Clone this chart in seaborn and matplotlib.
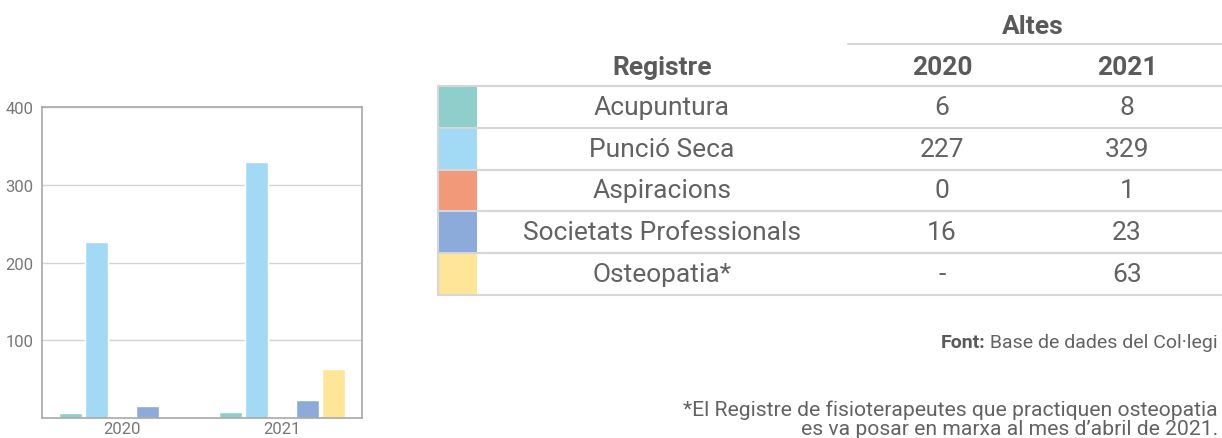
import matplotlib
matplotlib.use("Agg")
import matplotlib.pyplot as plt
import seaborn as sns
import pandas as pd
import numpy as np
from matplotlib.patches import Rectangle
from matplotlib.lines import Line2D

# ---- data ----
years = ["2020", "2021"]
registres = ["Acupuntura", "Punció Seca", "Aspiracions", "Societats Professionals", "Osteopatia*"]
altes_2020 = [6, 227, 0, 16, None]
altes_2021 = [8, 329, 1, 23, 63]
colors = ["#8ECFCB", "#A2DAF6", "#F2997A", "#8CAADA", "#FFE598"]
yticks = [100, 200, 300, 400]
title_altes = "Altes"
header_registre = "Registre"
font_label = "Font:"
font_text = " Base de dades del Col·legi"
note_lines = ["*El Registre de fisioterapeutes que practiquen osteopatia",
              "es va posar en marxa al mes d\u2019abril de 2021."]

rows = []
for r, v0, v1 in zip(registres, altes_2020, altes_2021):
    rows.append({"year": "2020", "registre": r, "altes": np.nan if v0 is None else v0})
    rows.append({"year": "2021", "registre": r, "altes": v1})
df = pd.DataFrame(rows)

sns.set_theme(style="white")
plt.rcParams["font.family"] = ["Roboto", "DejaVu Sans"]

W, H = 1222, 439
fig = plt.figure(figsize=(W / 100, H / 100), dpi=100)

def px(x0, y0, x1, y1):
    return [x0 / W, 1 - y1 / H, (x1 - x0) / W, (y1 - y0) / H]

ax = fig.add_axes(px(42, 108, 362, 419))
sns.barplot(data=df, x="year", y="altes", hue="registre", order=years,
            hue_order=registres, palette=colors, width=0.8, gap=0.1,
            saturation=1, legend=False, ax=ax, errorbar=None)
ax.set_ylim(0, 400)
ax.set_xlim(-0.5, 1.5)
ax.set_yticks(yticks)
ax.set_yticklabels([str(t) for t in yticks])
ax.set_xlabel("")
ax.set_ylabel("")
ax.yaxis.grid(True, color="#d4d4d4", linewidth=1)
ax.set_axisbelow(True)
for s in ax.spines.values():
    s.set_color("#a8a8a8")
    s.set_linewidth(1.2)
ax.tick_params(axis="both", length=0, labelsize=12, labelcolor="#777777", pad=2)
ax.tick_params(axis="y", pad=6)

# ---- table overlay (pixel coordinates) ----
tax = fig.add_axes([0, 0, 1, 1])
tax.set_xlim(0, W)
tax.set_ylim(H, 0)
tax.axis("off")
tcol = "#626262"
hcol = "#5a5a5a"
lcol = "#d6d6d6"
fsz = 19
fw = "normal"

tax.text(1033, 27, title_altes, ha="center", va="center", fontsize=fsz, fontweight="bold", color=hcol)
tax.add_line(Line2D([848, 1222], [45, 45], color=lcol, linewidth=1.5))
tax.text(662, 68, header_registre, ha="center", va="center", fontsize=fsz, fontweight="bold", color=hcol)
tax.text(942, 68, years[0], ha="center", va="center", fontsize=fsz, fontweight="bold", color=hcol)
tax.text(1127, 68, years[1], ha="center", va="center", fontsize=fsz, fontweight="bold", color=hcol)

row_top = 87
row_h = 41.8
tax.add_line(Line2D([438, 1222], [row_top, row_top], color=lcol, linewidth=1.5))
for i, (r, v0, v1, c) in enumerate(zip(registres, altes_2020, altes_2021, colors)):
    y0 = row_top + i * row_h
    yc = y0 + row_h / 2
    tax.add_patch(Rectangle((439, y0 + 1), 38, row_h - 2, facecolor=c, edgecolor="none"))
    tax.text(662, yc, r, ha="center", va="center", fontsize=fsz, fontweight=fw, color=tcol)
    tax.text(942, yc, "-" if v0 is None else str(v0), ha="center", va="center", fontsize=fsz, fontweight=fw, color=tcol)
    tax.text(1127, yc, str(v1), ha="center", va="center", fontsize=fsz, fontweight=fw, color=tcol)
    tax.add_line(Line2D([438, 1222], [y0 + row_h, y0 + row_h], color=lcol, linewidth=1.5))
tax.add_line(Line2D([438, 438], [row_top, row_top + 5 * row_h], color=lcol, linewidth=1.5))

# ---- footnotes ----
t = tax.text(1218, 343, font_text, ha="right", va="center", fontsize=14, color=tcol, fontweight=fw)
fig.canvas.draw()
bb = t.get_window_extent()
xleft = bb.x0
tax.text(xleft, 343, font_label, ha="right", va="center", fontsize=14, color=hcol, fontweight="bold")
tax.text(1218, 410, note_lines[0], ha="right", va="center", fontsize=15.2, color=tcol, fontweight=fw)
tax.text(1218, 430, note_lines[1], ha="right", va="center", fontsize=15.2, color=tcol, fontweight=fw)

fig.savefig("out.png", dpi=100)
